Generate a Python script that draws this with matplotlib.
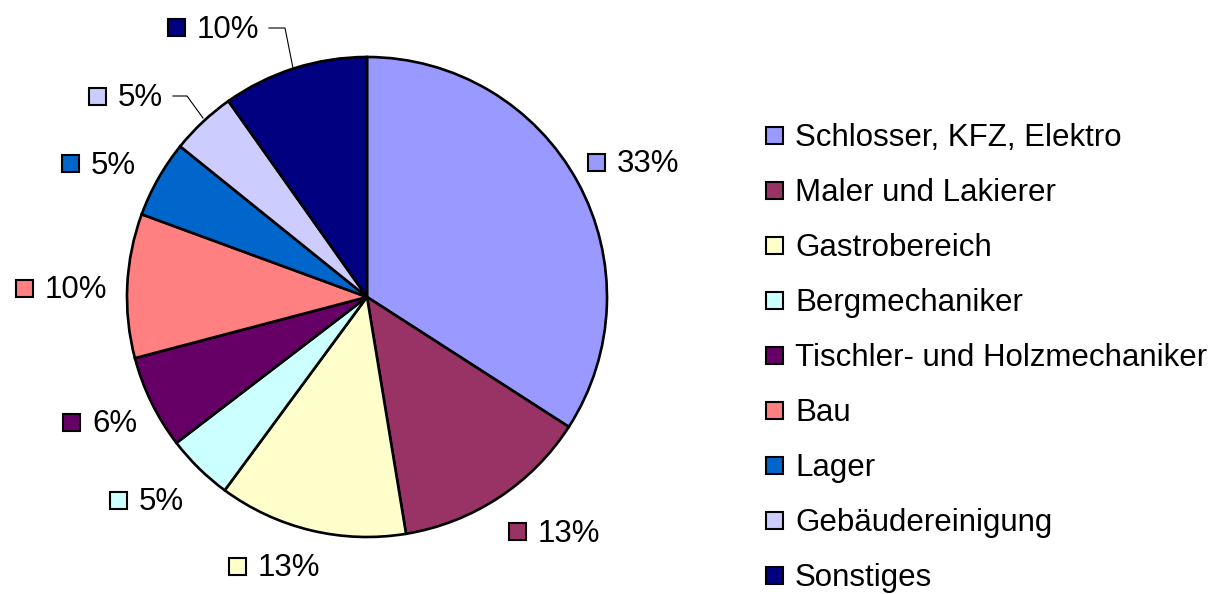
import matplotlib
matplotlib.use("Agg")
import matplotlib.pyplot as plt
from matplotlib.patches import Rectangle
import numpy as np

plt.rcParams['font.family'] = ['Liberation Sans', 'DejaVu Sans']

categories = ["Schlosser, KFZ, Elektro", "Maler und Lakierer", "Gastrobereich",
              "Bergmechaniker", "Tischler- und Holzmechaniker", "Bau", "Lager",
              "Gebäudereinigung", "Sonstiges"]
shares = [34.1, 13.3, 12.7, 4.5, 6.3, 9.7, 5.2, 4.4, 9.8]
pct_labels = ["33%", "13%", "13%", "5%", "6%", "10%", "5%", "5%", "10%"]
colors = ["#9999FF", "#993366", "#FFFFCC", "#CCFFFF", "#660066",
          "#FF8080", "#0066CC", "#CCCCFF", "#000080"]

W, H = 1212, 594
fig = plt.figure(figsize=(W / 100, H / 100), dpi=100)
ax = fig.add_axes([0, 0, 1, 1])

def py(y):  # image y (down) -> data y (up)
    return H - y

cx, cy, R = 367, 297, 240
ax.pie(shares, colors=colors, startangle=90, counterclock=False,
       center=(cx, py(cy)), radius=R,
       wedgeprops=dict(edgecolor="black", linewidth=1.9))
ax.set_xlim(0, W)
ax.set_ylim(0, H)
ax.set_aspect("equal")
ax.axis("off")

FS = 22.5
SQ = 17

def key(xc, yc, color, text):
    ax.add_patch(Rectangle((xc - SQ / 2, py(yc) - SQ / 2), SQ, SQ,
                           facecolor=color, edgecolor="black", linewidth=1.5,
                           zorder=5))
    ax.text(xc + 21, py(yc + 10.5), text, fontsize=FS, ha="left",
            va="baseline", color="black", zorder=5)

# data label anchor positions (square centers, image pixel coords)
label_pos = [(596, 162), (517, 531), (237, 566), (118, 500), (71, 422),
             (24, 288), (70, 163), (97, 96), (176, 27)]
for (x, y), c, t in zip(label_pos, colors, pct_labels):
    key(x, y, c, t)

# leader lines
ax.plot([173, 187, 203], [py(96), py(96), py(118)], color="black", lw=0.8, zorder=4)
ax.plot([269, 285, 293], [py(28), py(28), py(68)], color="black", lw=0.8, zorder=4)

# legend
leg_x, leg_y0, leg_dy = 774, 135, 55.1
for i, (c, t) in enumerate(zip(colors, categories)):
    key(leg_x, leg_y0 + i * leg_dy, c, t)

fig.savefig("out.png", dpi=100)
